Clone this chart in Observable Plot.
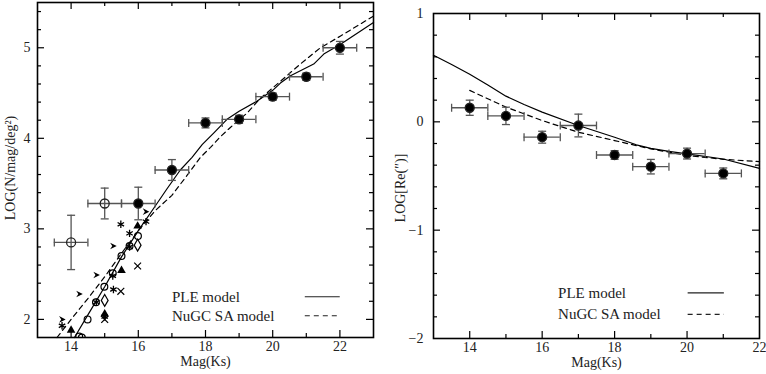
<!DOCTYPE html>
<html><head><meta charset="utf-8">
<script src="https://cdn.jsdelivr.net/npm/d3@7"></script>
<script src="https://cdn.jsdelivr.net/npm/@observablehq/plot@0.6"></script>
<style>
body{margin:0;background:#fff;}
#wrap{display:flex;width:766px;height:374px;overflow:hidden;}
svg{display:block;}
</style></head><body><div id="wrap"></div>
<script>
// ---------- Left panel: counts ----------
const countMag = [16, 17, 18, 19, 20, 21, 22];
const countLog = [3.28, 3.65, 4.17, 4.21, 4.46, 4.68, 5.0];
const countErr = [0.18, 0.115, 0.055, 0.045, 0.04, 0.04, 0.07];
const litMag = [14, 15];
const litLog = [2.85, 3.28];
const litErr = [0.3, 0.17];
const magHalfBin = 0.5;

const arrowPts = [[13.74, 2.0], [14.25, 2.28], [14.76, 2.49], [15.26, 2.81], [16.23, 3.19]];
const asteriskPts = [[13.73, 1.93], [15.48, 3.05], [15.74, 2.95], [15.26, 2.33], [14.75, 2.19], [16.23, 3.08], [15.0, 2.03], [15.24, 2.48], [15.74, 2.8]];
const timesPts = [[15.98, 2.59], [15.48, 2.31], [15.0, 2.0]];
const circlePts = [[14.49, 2.0], [14.99, 2.36], [15.5, 2.7], [15.99, 2.92], [14.24, 1.81], [14.74, 2.19], [15.24, 2.51], [15.74, 2.81], [14.32, 1.8]];
const diamondPts = [[15.0, 2.21], [15.98, 2.82]];
const trianglePts = [[14.0, 1.88], [15.5, 2.54], [15.98, 3.03], [15.0, 2.06]];

const pleLeftX = [14.1, 14.5, 15.0, 15.5, 16.0, 16.5, 16.85, 17.25, 17.6, 17.9, 18.25, 18.64, 19.0, 19.53, 20.0, 20.23, 20.53, 21.22, 21.52, 22.02, 23.0];
const pleLeftY = [1.8, 2.05, 2.36, 2.69, 2.98, 3.25, 3.44, 3.65, 3.79, 3.93, 4.06, 4.21, 4.30, 4.41, 4.53, 4.61, 4.69, 4.82, 4.93, 5.04, 5.28];
const nugcLeftX = [13.58, 14.0, 14.5, 15.0, 15.5, 16.0, 16.5, 17.0, 17.45, 17.85, 18.15, 18.45, 18.74, 19.24, 19.63, 20.23, 20.82, 21.42, 22.02, 23.0];
const nugcLeftY = [1.8, 2.0, 2.23, 2.47, 2.73, 2.98, 3.2, 3.37, 3.59, 3.79, 3.9, 4.02, 4.12, 4.28, 4.44, 4.63, 4.82, 5.0, 5.13, 5.35];

// ---------- Right panel: sizes ----------
const sizeMag = [14, 15, 16, 17, 18, 19, 20, 21];
const sizeLog = [0.13, 0.055, -0.142, -0.034, -0.306, -0.414, -0.293, -0.476];
const sizeErr = [0.07, 0.08, 0.055, 0.105, 0.04, 0.067, 0.05, 0.05];
const pleRightX = [13, 13.5, 14, 14.5, 15, 15.5, 16, 17, 18, 18.6, 19, 19.5, 20, 21, 22];
const pleRightY = [0.614, 0.53, 0.44, 0.34, 0.237, 0.16, 0.09, -0.034, -0.142, -0.212, -0.245, -0.272, -0.296, -0.343, -0.43];
const nugcRightX = [14, 15, 16, 17, 18, 19, 20, 21, 22];
const nugcRightY = [0.29, 0.136, 0.012, -0.096, -0.173, -0.25, -0.31, -0.346, -0.367];

// ---------- tick and label text ----------
const leftXTicks = [14, 16, 18, 20, 22];
const leftYTicks = [2, 3, 4, 5];
const rightXTicks = [14, 16, 18, 20, 22];
const rightYTicks = [-2, -1, 0, 1];
const legendLabels = ["PLE model", "NuGC SA model"];
const leftYLabel = "LOG(N/mag/deg²)";
const rightYLabel = "LOG[Re(″)]";
const xLabel = "Mag(Ks)";

// ---------- helpers ----------
const FONT = "'Liberation Serif', serif";
const zip = (xs, ys) => xs.map((x, i) => ({x, y: ys[i]}));
const rows = (m, v, e) => m.map((x, i) => ({x, y: v[i], e: e[i]}));
const intFmt = d3.format("d");

const hCap = {draw(ctx) { ctx.moveTo(0, -4); ctx.lineTo(0, 4); }};
const vCap = {draw(ctx) { ctx.moveTo(-4, 0); ctx.lineTo(4, 0); }};
const arrowHead = {draw(ctx, size) {
  const s = Math.sqrt(size / Math.PI);
  ctx.moveTo(s, 0); ctx.lineTo(-s, -s); ctx.lineTo(-s * 0.35, 0); ctx.lineTo(-s, s); ctx.closePath();
}};

function range(a, b, step) { const out = []; for (let v = a; v <= b + 1e-9; v += step) out.push(+v.toFixed(4)); return out; }

function frameTicks(xVals, yVals, innerW, innerH) {
  const isMaj = v => Math.abs(v - Math.round(v)) < 1e-6;
  const marks = [];
  for (const [vals, len] of [[xVals.filter(v => isMaj(v / 2)), 7], [xVals.filter(v => !isMaj(v / 2)), 4]]) {
    marks.push(Plot.tickX(vals, {x: d => d, insetTop: innerH - len, stroke: "black", strokeWidth: 1.2}));
    marks.push(Plot.tickX(vals, {x: d => d, insetBottom: innerH - len, stroke: "black", strokeWidth: 1.2}));
  }
  for (const [vals, len] of [[yVals.filter(isMaj), 7], [yVals.filter(v => !isMaj(v)), 4]]) {
    marks.push(Plot.tickY(vals, {y: d => d, insetRight: innerW - len, stroke: "black", strokeWidth: 1.2}));
    marks.push(Plot.tickY(vals, {y: d => d, insetLeft: innerW - len, stroke: "black", strokeWidth: 1.2}));
  }
  return marks;
}

function errorBars(data, fill) {
  const c = "#555";
  return [
    Plot.ruleY(data, {y: "y", x1: d => d.x - magHalfBin, x2: d => d.x + magHalfBin, stroke: c, strokeWidth: 1.3}),
    Plot.ruleX(data, {x: "x", y1: d => d.y - d.e, y2: d => d.y + d.e, stroke: c, strokeWidth: 1.3}),
    Plot.dot(data, {x: d => d.x - magHalfBin, y: "y", symbol: hCap, stroke: c, strokeWidth: 1.3}),
    Plot.dot(data, {x: d => d.x + magHalfBin, y: "y", symbol: hCap, stroke: c, strokeWidth: 1.3}),
    Plot.dot(data, {x: "x", y: d => d.y - d.e, symbol: vCap, stroke: c, strokeWidth: 1.3}),
    Plot.dot(data, {x: "x", y: d => d.y + d.e, symbol: vCap, stroke: c, strokeWidth: 1.3}),
    Plot.dot(data, {x: "x", y: "y", r: 4.5, fill: fill, stroke: "#222", strokeWidth: 1.3})
  ];
}

function legend(xText, xLine, yRows) {
  return [
    Plot.text(legendLabels, {x: xText, y: (d, i) => yRows[i], text: d => d, textAnchor: "start", fontFamily: FONT, fontSize: 15, fill: "#222"}),
    Plot.ruleY([yRows[0]], {y: d => d, x1: xLine[0], x2: xLine[1], stroke: "#222", strokeWidth: 1.2}),
    Plot.ruleY([yRows[1]], {y: d => d, x1: xLine[0], x2: xLine[1], stroke: "#222", strokeWidth: 1.2, strokeDasharray: "5,4"})
  ];
}

function labels(yLabel, yLabelDx, yLabelDy) {
  return [
    Plot.text([yLabel], {frameAnchor: "left", textAnchor: "middle", dx: yLabelDx, dy: yLabelDy, rotate: -90, text: d => d, fontFamily: FONT, fontSize: 14, fill: "#222"}),
    Plot.text([xLabel], {frameAnchor: "bottom", textAnchor: "middle", dy: 24, lineAnchor: "middle", text: d => d, fontFamily: FONT, fontSize: 14, fill: "#222"})
  ];
}

// ---------- Left plot ----------
const LW = 380, LH = 374, LML = 37, LMR = 7, LMT = 2, LMB = 37;
const left = Plot.plot({
  width: LW, height: LH, marginLeft: LML, marginRight: LMR, marginTop: LMT, marginBottom: LMB,
  style: {fontFamily: FONT, fontSize: "14px", color: "#222", background: "white"},
  x: {domain: [13, 23]},
  y: {domain: [1.8, 5.5]},
  marks: [
    ...frameTicks(range(14, 22, 1), range(2, 5.4, 0.2), LW - LML - LMR, LH - LMT - LMB),
    Plot.axisX({ticks: leftXTicks, tickFormat: intFmt, tickSize: 0, tickPadding: 4, label: null, fontSize: 14}),
    Plot.axisY({ticks: leftYTicks, tickFormat: intFmt, tickSize: 0, tickPadding: 7, label: null, fontSize: 14}),
    Plot.line(zip(pleLeftX, pleLeftY), {x: "x", y: "y", stroke: "black", strokeWidth: 1.2}),
    Plot.line(zip(nugcLeftX, nugcLeftY), {x: "x", y: "y", stroke: "black", strokeWidth: 1.2, strokeDasharray: "5,4"}),
    Plot.dot(arrowPts, {x: "0", y: "1", symbol: arrowHead, r: 3.3, fill: "black", stroke: "none", clip: true}),
    Plot.dot(asteriskPts, {x: "0", y: "1", symbol: "asterisk", r: 3.5, stroke: "black", strokeWidth: 1.3, clip: true}),
    Plot.dot(timesPts, {x: "0", y: "1", symbol: "times", r: 3.2, stroke: "black", strokeWidth: 1.2, clip: true}),
    Plot.dot(circlePts, {x: "0", y: "1", r: 3.4, fill: "white", fillOpacity: 0, stroke: "black", strokeWidth: 1.2, clip: true}),
    Plot.dot(diamondPts, {x: "0", y: "1", symbol: "diamond", r: 3.6, stroke: "black", strokeWidth: 1.2, clip: true}),
    Plot.dot(trianglePts, {x: "0", y: "1", symbol: "triangle", r: 3.2, fill: "black", stroke: "none", clip: true}),
    ...errorBars(rows(litMag, litLog, litErr), "none"),
    ...errorBars(rows(countMag, countLog, countErr), "black"),
    ...legend(17.0, [20.97, 22.01], [2.25, 2.04]),
    ...labels(leftYLabel, -27, -2),
    Plot.frame({stroke: "black", strokeWidth: 1.6})
  ]
});

// ---------- Right plot ----------
const RW = 386, RH = 374, RML = 53, RMR = 7, RMT = 13, RMB = 36;
const right = Plot.plot({
  width: RW, height: RH, marginLeft: RML, marginRight: RMR, marginTop: RMT, marginBottom: RMB,
  style: {fontFamily: FONT, fontSize: "14px", color: "#222", background: "white"},
  x: {domain: [13, 22]},
  y: {domain: [-2, 1]},
  marks: [
    ...frameTicks(range(14, 21, 1), range(-1.8, 0.8, 0.2), RW - RML - RMR, RH - RMT - RMB),
    Plot.axisX({ticks: rightXTicks, tickFormat: intFmt, tickSize: 0, tickPadding: 4, label: null, fontSize: 14}),
    Plot.axisY({ticks: rightYTicks, tickFormat: intFmt, tickSize: 0, tickPadding: 10, label: null, fontSize: 14}),
    Plot.line(zip(pleRightX, pleRightY), {x: "x", y: "y", stroke: "black", strokeWidth: 1.2}),
    Plot.line(zip(nugcRightX, nugcRightY), {x: "x", y: "y", stroke: "black", strokeWidth: 1.2, strokeDasharray: "5,4"}),
    ...errorBars(rows(sizeMag, sizeLog, sizeErr), "black"),
    ...legend(16.44, [20.03, 21.03], [-1.578, -1.778]),
    ...labels(rightYLabel, -33, 12),
    Plot.frame({stroke: "black", strokeWidth: 1.6})
  ]
});

document.getElementById("wrap").append(left, right);
</script></body></html>
